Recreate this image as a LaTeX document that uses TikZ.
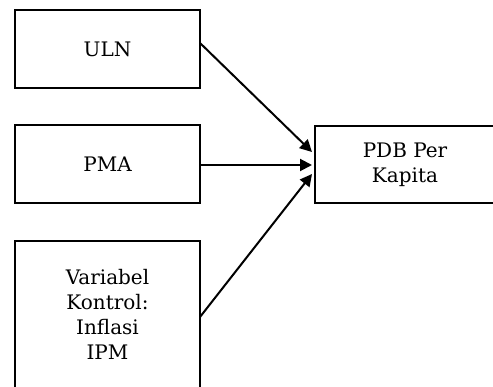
\documentclass[tikz,border=0pt]{standalone}
\usepackage{fontspec}
\setmainfont{DejaVu Serif}
\usetikzlibrary{arrows.meta}
\begin{document}
\begin{tikzpicture}[x=1pt,y=1pt,
  box/.style={draw, line width=2.3pt, minimum width=185pt, minimum height=78pt,
    inner sep=0pt, outer sep=0pt, align=center,
    font=\fontsize{20}{25}\selectfont},
  lbl/.style={align=center, inner sep=0pt, font=\fontsize{20}{25}\selectfont},
  link/.style={line width=2pt, -{Triangle[length=12pt,width=12pt]}}]
\useasboundingbox (0,0) rectangle (493,-387);
\clip (0,0) rectangle (493,-387);
\node[box] (uln) at (107.5,-49) {ULN};
\node[box] (pma) at (107.5,-164) {PMA};
\node[box, minimum height=160pt] (ctl) at (107.5,-321) {};
\node[lbl] (ctltext) at (107.5,-314) {Variabel\\Kontrol:\\Inflasi\\IPM};
\node[box, minimum width=180pt, minimum height=77pt] (pdb) at (405,-164.5) {PDB Per\\Kapita};
\coordinate (t1) at (312,-152);
\coordinate (t2) at (312,-165);
\coordinate (t3) at (312,-174);
\draw[link] ([yshift=6pt]uln.east) -- (t1);
\draw[link] ([yshift=-1pt]pma.east) -- (t2);
\draw[link] ([yshift=4pt]ctl.east) -- (t3);
\end{tikzpicture}
\end{document}
